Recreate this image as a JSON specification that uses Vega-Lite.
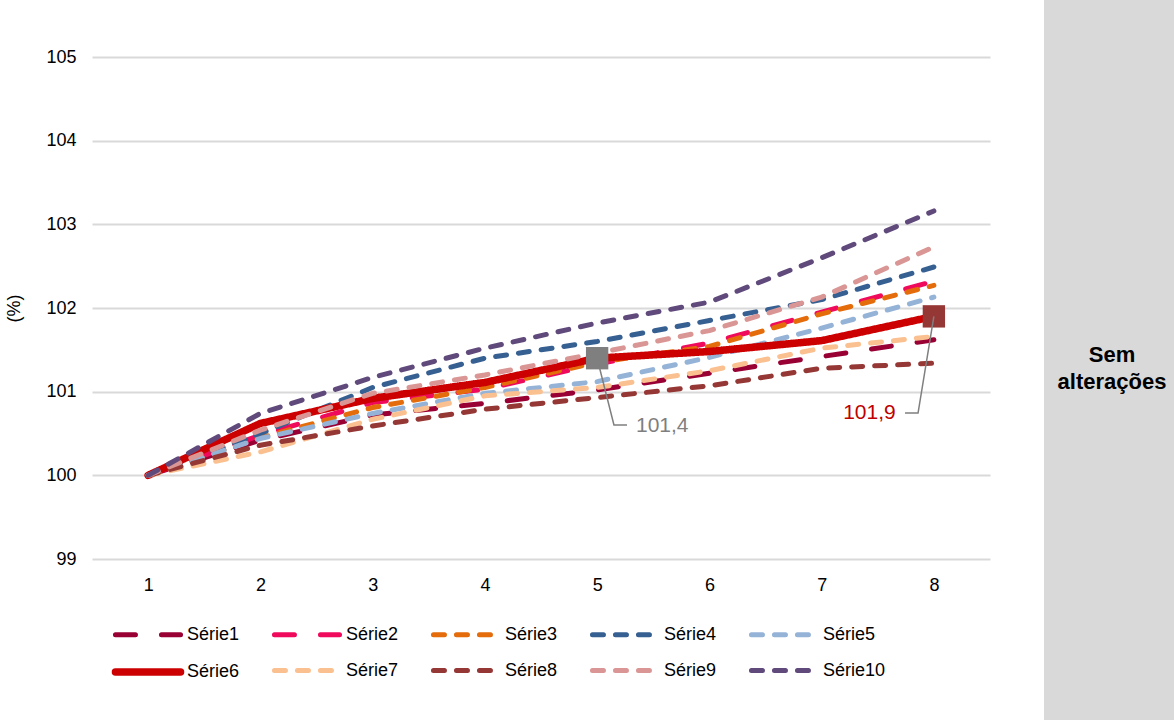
{
  "$schema": "https://vega.github.io/schema/vega-lite/v6.json",
  "width": 898,
  "height": 502,
  "autosize": {"type": "none"},
  "padding": {"left": 92, "top": 57, "right": 184, "bottom": 161},
  "background": "white",
  "config": {"view": {"stroke": null}, "font": "Liberation Sans"},
  "datasets": {
    "series": [
      {"s": "Série1", "x": 1, "y": 100}, {"s": "Série1", "x": 2, "y": 100.42}, {"s": "Série1", "x": 3, "y": 100.72}, {"s": "Série1", "x": 4, "y": 100.86}, {"s": "Série1", "x": 5, "y": 101.02}, {"s": "Série1", "x": 6, "y": 101.22}, {"s": "Série1", "x": 7, "y": 101.42}, {"s": "Série1", "x": 8, "y": 101.62},
      {"s": "Série2", "x": 1, "y": 100}, {"s": "Série2", "x": 2, "y": 100.48}, {"s": "Série2", "x": 3, "y": 100.87}, {"s": "Série2", "x": 4, "y": 101.03}, {"s": "Série2", "x": 5, "y": 101.33}, {"s": "Série2", "x": 6, "y": 101.58}, {"s": "Série2", "x": 7, "y": 101.95}, {"s": "Série2", "x": 8, "y": 102.32},
      {"s": "Série3", "x": 1, "y": 100}, {"s": "Série3", "x": 2, "y": 100.45}, {"s": "Série3", "x": 3, "y": 100.81}, {"s": "Série3", "x": 4, "y": 101.05}, {"s": "Série3", "x": 5, "y": 101.35}, {"s": "Série3", "x": 6, "y": 101.54}, {"s": "Série3", "x": 7, "y": 101.93}, {"s": "Série3", "x": 8, "y": 102.27},
      {"s": "Série4", "x": 1, "y": 100}, {"s": "Série4", "x": 2, "y": 100.5}, {"s": "Série4", "x": 3, "y": 101.05}, {"s": "Série4", "x": 4, "y": 101.4}, {"s": "Série4", "x": 5, "y": 101.6}, {"s": "Série4", "x": 6, "y": 101.85}, {"s": "Série4", "x": 7, "y": 102.1}, {"s": "Série4", "x": 8, "y": 102.49},
      {"s": "Série5", "x": 1, "y": 100}, {"s": "Série5", "x": 2, "y": 100.44}, {"s": "Série5", "x": 3, "y": 100.74}, {"s": "Série5", "x": 4, "y": 100.98}, {"s": "Série5", "x": 5, "y": 101.12}, {"s": "Série5", "x": 6, "y": 101.41}, {"s": "Série5", "x": 7, "y": 101.76}, {"s": "Série5", "x": 8, "y": 102.13},
      {"s": "Série6", "x": 1, "y": 100}, {"s": "Série6", "x": 2, "y": 100.62}, {"s": "Série6", "x": 3, "y": 100.92}, {"s": "Série6", "x": 4, "y": 101.11}, {"s": "Série6", "x": 5, "y": 101.4}, {"s": "Série6", "x": 6, "y": 101.48}, {"s": "Série6", "x": 7, "y": 101.61}, {"s": "Série6", "x": 8, "y": 101.9},
      {"s": "Série7", "x": 1, "y": 100}, {"s": "Série7", "x": 2, "y": 100.28}, {"s": "Série7", "x": 3, "y": 100.67}, {"s": "Série7", "x": 4, "y": 100.95}, {"s": "Série7", "x": 5, "y": 101.05}, {"s": "Série7", "x": 6, "y": 101.25}, {"s": "Série7", "x": 7, "y": 101.52}, {"s": "Série7", "x": 8, "y": 101.66},
      {"s": "Série8", "x": 1, "y": 100}, {"s": "Série8", "x": 2, "y": 100.36}, {"s": "Série8", "x": 3, "y": 100.59}, {"s": "Série8", "x": 4, "y": 100.79}, {"s": "Série8", "x": 5, "y": 100.93}, {"s": "Série8", "x": 6, "y": 101.07}, {"s": "Série8", "x": 7, "y": 101.28}, {"s": "Série8", "x": 8, "y": 101.34},
      {"s": "Série9", "x": 1, "y": 100}, {"s": "Série9", "x": 2, "y": 100.54}, {"s": "Série9", "x": 3, "y": 100.98}, {"s": "Série9", "x": 4, "y": 101.2}, {"s": "Série9", "x": 5, "y": 101.46}, {"s": "Série9", "x": 6, "y": 101.73}, {"s": "Série9", "x": 7, "y": 102.13}, {"s": "Série9", "x": 8, "y": 102.73},
      {"s": "Série10", "x": 1, "y": 100}, {"s": "Série10", "x": 2, "y": 100.74}, {"s": "Série10", "x": 3, "y": 101.17}, {"s": "Série10", "x": 4, "y": 101.52}, {"s": "Série10", "x": 5, "y": 101.82}, {"s": "Série10", "x": 6, "y": 102.07}, {"s": "Série10", "x": 7, "y": 102.6}, {"s": "Série10", "x": 8, "y": 103.16}
    ],
    "panel": [{"x": 8.981, "x2": 10.3, "y": 96.9, "y2": 105.7}],
    "paneltext": [
      {"t": "Sem", "x": 9.587, "y": 101.355},
      {"t": "alterações", "x": 9.587, "y": 101.03}
    ],
    "markers": [
      {"x": 5, "y": 101.4, "c": "#7f7f7f"},
      {"x": 8, "y": 101.9, "c": "#953735"}
    ],
    "leaders": [
      {"g": "a", "o": 1, "x": 5.0, "y": 101.4},
      {"g": "a", "o": 2, "x": 5.15, "y": 100.602},
      {"g": "a", "o": 3, "x": 5.266, "y": 100.602},
      {"g": "b", "o": 1, "x": 8.0, "y": 101.9},
      {"g": "b", "o": 2, "x": 7.859, "y": 100.745},
      {"g": "b", "o": 3, "x": 7.743, "y": 100.745}
    ],
    "labels": [
      {"t": "101,4", "x": 5.346, "y": 100.59, "c": "#7f7f7f"},
      {"t": "101,9", "x": 7.192, "y": 100.745, "c": "#c00000"}
    ]
  },
  "encoding": {
    "x": {
      "field": "x", "type": "quantitative",
      "scale": {"domain": [0.5, 8.5], "nice": false, "zero": false},
      "axis": {"values": [1, 2, 3, 4, 5, 6, 7, 8], "format": "d", "title": null, "grid": false, "domain": false, "ticks": false, "labelPadding": 17, "labelFontSize": 18, "labelColor": "#000000"}
    },
    "y": {
      "field": "y", "type": "quantitative",
      "scale": {"domain": [99, 105], "nice": false, "zero": false},
      "axis": {"values": [99, 100, 101, 102, 103, 104, 105], "format": "d", "title": "(%)", "titleFontSize": 18, "titleFontWeight": "normal", "titleColor": "#000000", "titlePadding": 22, "grid": true, "gridColor": "#d9d9d9", "gridWidth": 2, "domain": false, "ticks": false, "labelPadding": 16, "labelFontSize": 18, "labelColor": "#000000"}
    }
  },
  "layer": [
    {
      "data": {"name": "panel"},
      "mark": {"type": "rect", "color": "#d9d9d9", "clip": false},
      "encoding": {"x2": {"field": "x2"}, "y2": {"field": "y2"}}
    },
    {
      "data": {"name": "paneltext"},
      "mark": {"type": "text", "fontSize": 22, "fontWeight": "bold", "align": "center", "baseline": "alphabetic", "color": "#000000"},
      "encoding": {"text": {"field": "t"}}
    },
    {
      "data": {"name": "series"},
      "mark": {"type": "line", "strokeCap": "round", "strokeJoin": "round"},
      "encoding": {
        "color": {
          "field": "s", "type": "nominal",
          "scale": {
            "domain": ["Série1", "Série2", "Série3", "Série4", "Série5", "Série6", "Série7", "Série8", "Série9", "Série10"],
            "range": ["#990033", "#f00a5c", "#e46c0a", "#376092", "#95b3d7", "#cc0000", "#fac090", "#953735", "#d99694", "#604a7b"]
          },
          "legend": {
            "orient": "none", "legendX": 40, "legendY": 560, "direction": "horizontal", "columns": 5,
            "title": null, "symbolType": "M-2.75,0H2.75", "symbolSize": 560, "labelFontSize": 18, "labelColor": "#000000",
            "labelOffset": 23, "columnPadding": 14, "rowPadding": 8, "gridAlign": "all",
            "encode": {"symbols": {"update": {"strokeCap": {"value": "round"}, "fill": {"value": "transparent"}}}}
          }
        },
        "strokeDash": {
          "field": "s", "type": "nominal",
          "scale": {
            "domain": ["Série1", "Série2", "Série3", "Série4", "Série5", "Série6", "Série7", "Série8", "Série9", "Série10"],
            "range": [[20, 26], [20, 26], [11, 12], [11, 12], [11, 12], [1, 0], [11, 12], [11, 12], [11, 12], [11, 12]]
          }
        },
        "strokeWidth": {
          "field": "s", "type": "nominal",
          "scale": {
            "type": "ordinal",
            "domain": ["Série1", "Série2", "Série3", "Série4", "Série5", "Série6", "Série7", "Série8", "Série9", "Série10"],
            "range": [5, 5, 5, 5, 5, 7.5, 5, 5, 5, 5]
          }
        },
        "order": {"field": "x", "type": "quantitative"}
      }
    },
    {
      "data": {"name": "markers"},
      "mark": {"type": "point", "shape": "square", "size": 500, "filled": true, "opacity": 1},
      "encoding": {"color": {"field": "c", "type": "nominal", "scale": null}}
    },
    {
      "data": {"name": "leaders"},
      "mark": {"type": "line", "color": "#7f7f7f", "strokeWidth": 1.5},
      "encoding": {"detail": {"field": "g"}, "order": {"field": "o", "type": "quantitative"}}
    },
    {
      "data": {"name": "labels"},
      "mark": {"type": "text", "fontSize": 21, "align": "left", "baseline": "middle"},
      "encoding": {"text": {"field": "t"}, "color": {"field": "c", "type": "nominal", "scale": null}}
    }
  ]
}
